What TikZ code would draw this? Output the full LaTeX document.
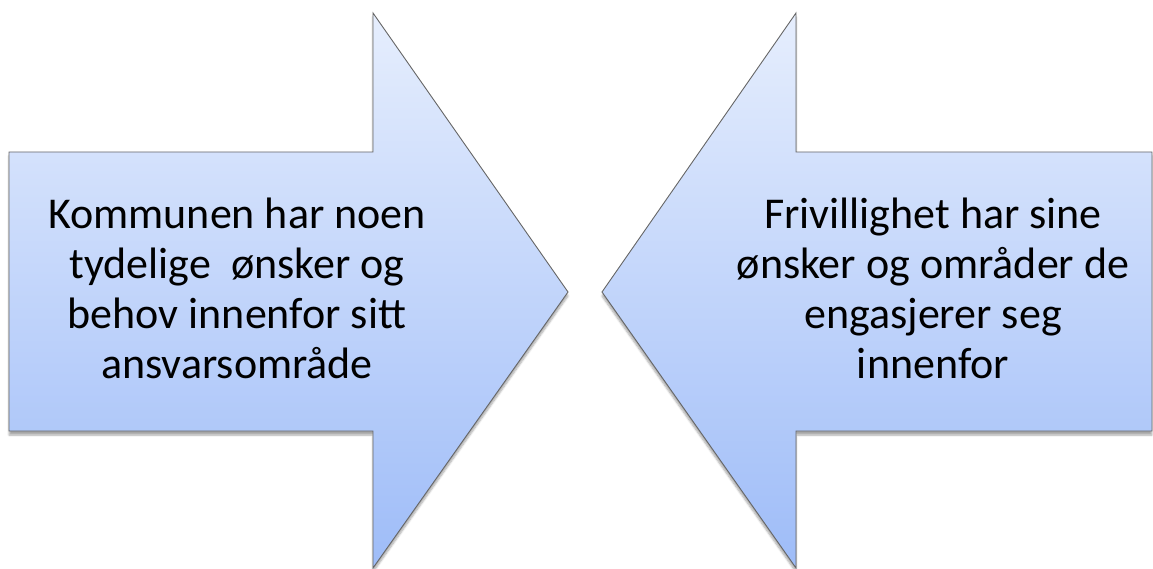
\documentclass[tikz,border=0pt]{standalone}
\usepackage{fontspec}
\setmainfont{Carlito}
\usetikzlibrary{shadows.blur}
\begin{document}
\begin{tikzpicture}[x=1pt,y=-1pt,
  arrowshape/.style={draw=black!60, line width=0.9pt, line join=miter,
    top color=topblue, bottom color=botblue,
    blur shadow={shadow xshift=0pt, shadow yshift=-4pt, shadow blur steps=6, shadow opacity=35}},
  label/.style={align=center, font=\fontsize{44}{50}\selectfont, text=black}]
  \definecolor{topblue}{HTML}{E6EEFD}
  \definecolor{botblue}{HTML}{9EBCF8}
  \useasboundingbox (0,0) rectangle (1153,569);
  % left arrow pointing right
  \path[arrowshape]
    (9,152) -- (373,152) -- (373,13) -- (568,292) -- (373,568) -- (373,431) -- (9,431) -- cycle;
  % right arrow pointing left
  \path[arrowshape]
    (1152,152) -- (796,152) -- (796,13) -- (602,292) -- (796,568) -- (796,431) -- (1152,431) -- cycle;
  \node[label] (left) at (237,288) {Kommunen har noen\\tydelige\ \ ønsker og\\behov innenfor sitt\\ansvarsområde};
  \node[label] (right) at (933,288) {Frivillighet har sine\\ønsker og områder de\\engasjerer seg\\innenfor};
\end{tikzpicture}
\end{document}
